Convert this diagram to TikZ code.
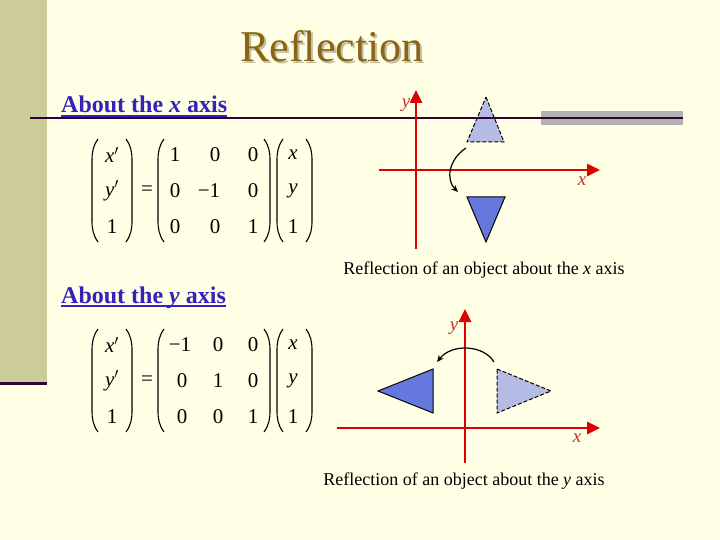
\documentclass[tikz,border=0pt]{standalone}
\usepackage{fontspec}
\setmainfont{Liberation Serif}
\usetikzlibrary{arrows.meta}
\definecolor{bg}{RGB}{255,255,229}
\definecolor{strip}{RGB}{204,204,153}
\definecolor{darkline}{RGB}{51,0,51}
\definecolor{graybar}{RGB}{178,178,178}
\definecolor{titlebrown}{RGB}{140,100,20}
\definecolor{shadowgray}{RGB}{190,190,170}
\definecolor{headblue}{RGB}{51,34,187}
\definecolor{axisred}{RGB}{220,0,0}
\definecolor{labelred}{RGB}{200,50,40}
\definecolor{lighttri}{RGB}{180,188,230}
\definecolor{darktri}{RGB}{102,119,221}
\newcommand{\mylparen}[3]{\draw[paren] (#1+6,#2) to[out=235,in=90] (#1,#2+22) -- (#1,#3-22) to[out=-90,in=125] (#1+6,#3);}
\newcommand{\myrparen}[3]{\draw[paren] (#1-6,#2) to[out=-55,in=90] (#1,#2+22) -- (#1,#3-22) to[out=-90,in=55] (#1-6,#3);}
\begin{document}
\begin{tikzpicture}[x=1pt,y=-1pt,
  entry/.style={inner sep=0pt, font=\fontsize{21}{25}\selectfont},
  paren/.style={line width=1.1pt, black},
  heading/.style={inner sep=0pt, anchor=base west, text=headblue, font=\fontsize{24}{28}\selectfont\bfseries},
  axis/.style={axisred, line width=2.6pt, -{Triangle[length=13pt,width=12pt]}},
  axlabel/.style={inner sep=0pt, text=labelred, font=\fontsize{19}{22}\selectfont\itshape},
  caption/.style={inner sep=0pt, anchor=base, font=\fontsize{18}{21}\selectfont},
  lighttriangle/.style={fill=lighttri, draw=black, dash pattern=on 4pt off 2pt, line width=1pt},
  darktriangle/.style={fill=darktri, draw=black, line width=1pt},
  turn/.style={black, line width=1.2pt, -{Stealth[length=7pt,width=6pt]}}]
\useasboundingbox (0,0) rectangle (720,540);
\fill[bg] (0,0) rectangle (720,540);
\fill[strip] (0,0) rectangle (47,383);
\draw[darkline, line width=3pt] (0,383) -- (47,383);

% title with shadow
\node[inner sep=0pt, anchor=base, text=titlebrown, font=\fontsize{44}{50}\selectfont] (title) at (332,62)
  {\makebox[0pt][l]{\kern2pt\raisebox{-2pt}{\color{shadowgray}Reflection}}Reflection};

% headings
\node[heading] (h1) at (61,113) {About the \textit{x} axis};
\draw[headblue, line width=1.5pt] ([yshift=-3pt]h1.base west) -- ([yshift=-3pt]h1.base east);
\node[heading] (h2) at (61,303) {About the \textit{y} axis};
\draw[headblue, line width=1.5pt] ([yshift=-3pt]h2.base west) -- ([yshift=-3pt]h2.base east);

% upper diagram shapes under the rule
\filldraw[lighttriangle] (486,97) -- (504,142) -- (467,142) -- cycle;
\fill[graybar] (541,111) rectangle (683,125);
\draw[darkline, line width=2pt] (30,118) -- (683,118);

% upper matrix
\mylparen{92}{139}{242}
\myrparen{132}{139}{242}
\node[entry] (ua1) at (112,155) {\textit{x}$'$};
\node[entry] (ua2) at (112,191) {\textit{y}$'$};
\node[entry] (ua3) at (112,227) {1};
\node[entry] (ueq) at (147,191) {=};
\mylparen{158}{139}{242}
\myrparen{270}{139}{242}
\node[entry] (ub11) at (175,155) {1};
\node[entry] (ub12) at (215,155) {0};
\node[entry] (ub13) at (253,155) {0};
\node[entry] (ub21) at (175,191) {0};
\node[entry] (ub22) at (209,191) {−1};
\node[entry] (ub23) at (253,191) {0};
\node[entry] (ub31) at (175,227) {0};
\node[entry] (ub32) at (215,227) {0};
\node[entry] (ub33) at (253,227) {1};
\mylparen{277}{139}{242}
\myrparen{312}{139}{242}
\node[entry] (uc1) at (293,155) {\textit{x}};
\node[entry] (uc2) at (293,191) {\textit{y}};
\node[entry] (uc3) at (293,227) {1};

% lower matrix
\mylparen{92}{329}{432}
\myrparen{132}{329}{432}
\node[entry] (la1) at (112,345) {\textit{x}$'$};
\node[entry] (la2) at (112,381) {\textit{y}$'$};
\node[entry] (la3) at (112,417) {1};
\node[entry] (leq) at (147,381) {=};
\mylparen{158}{329}{432}
\myrparen{270}{329}{432}
\node[entry] (lb11) at (180,345) {−1};
\node[entry] (lb12) at (218,345) {0};
\node[entry] (lb13) at (253,345) {0};
\node[entry] (lb21) at (182,381) {0};
\node[entry] (lb22) at (218,381) {1};
\node[entry] (lb23) at (253,381) {0};
\node[entry] (lb31) at (182,417) {0};
\node[entry] (lb32) at (218,417) {0};
\node[entry] (lb33) at (253,417) {1};
\mylparen{277}{329}{432}
\myrparen{312}{329}{432}
\node[entry] (lc1) at (293,345) {\textit{x}};
\node[entry] (lc2) at (293,381) {\textit{y}};
\node[entry] (lc3) at (293,417) {1};

% upper diagram
\coordinate (uyS) at (416,249);
\coordinate (uyE) at (416,90);
\coordinate (uxS) at (379,170);
\coordinate (uxE) at (600,170);
\draw[axis] (uxS) -- (uxE);
\draw[axis] (uyS) -- (uyE);
\node[axlabel] (uylab) at (406,105) {y};
\node[axlabel] (uxlab) at (582,181) {x};
\filldraw[darktriangle] (467,197) -- (505,197) -- (486,242) -- cycle;
\coordinate (uarrS) at (466,148);
\coordinate (uarrE) at (458,192);
\draw[turn] (uarrS) .. controls (448,160) and (446,180) .. (uarrE);
\node[caption] (ucap) at (484,274) {Reflection of an object about the \textit{x} axis};

% lower diagram
\coordinate (lyS) at (465,463);
\coordinate (lyE) at (465,309);
\coordinate (lxS) at (337,428);
\coordinate (lxE) at (600,428);
\draw[axis] (lxS) -- (lxE);
\draw[axis] (lyS) -- (lyE);
\node[axlabel] (lylab) at (454,328) {y};
\node[axlabel] (lxlab) at (577,438) {x};
\filldraw[darktriangle] (378,391) -- (433,369) -- (433,413) -- cycle;
\filldraw[lighttriangle] (497,369) -- (551,391) -- (497,413) -- cycle;
\coordinate (larrS) at (494,362);
\coordinate (larrE) at (437,362);
\draw[turn] (larrS) .. controls (484,345) and (452,343) .. (larrE);
\node[caption] (lcap) at (464,485) {Reflection of an object about the \textit{y} axis};
\end{tikzpicture}
\end{document}
